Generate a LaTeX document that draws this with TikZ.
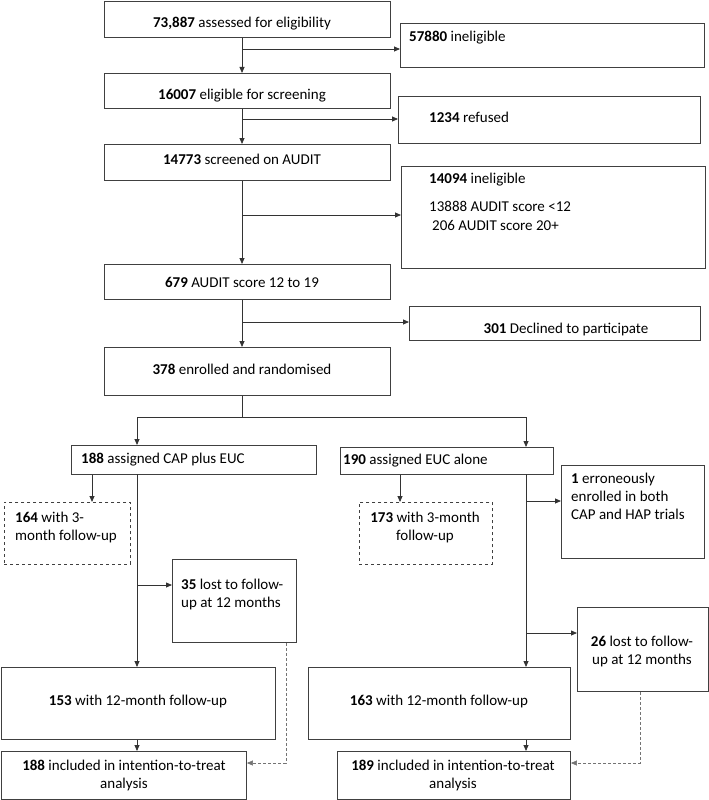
\documentclass[tikz,border=0pt]{standalone}
\usepackage{fontspec}
\setmainfont{Carlito}
\usetikzlibrary{arrows.meta}

\tikzset{
	box/.style={draw=black!75, line width=0.9pt, inner sep=0pt, anchor=north west},
	dbox/.style={box, dashed},
	txt/.style={inner sep=0pt, font=\fontsize{15}{18}\selectfont},
	arr/.style={draw=black!80, line width=0.8pt, -{Triangle[length=6pt,width=5pt]}},
	ln/.style={draw=black!80, line width=0.8pt},
	darr/.style={draw=black!55, line width=0.6pt, densely dashed, -{Triangle[length=6pt,width=5pt]}}
}

\begin{document}
\begin{tikzpicture}[x=1pt, y=-1pt]
	\useasboundingbox (0,0) rectangle (709,800);
	% main column
	\node[box, minimum width=286pt, minimum height=36pt] (b1) at (104,1) {};
	\node[txt] (t1) at (242,24) {\textbf{73,887} assessed for eligibility};
	\node[box, minimum width=304pt, minimum height=44pt] (b2) at (400,23) {};
	\node[txt, anchor=west] (t2) at (409,38) {\textbf{57880} ineligible};
	\node[box, minimum width=286pt, minimum height=35pt] (b3) at (104,73) {};
	\node[txt] (t3) at (242,96) {\textbf{16007} eligible for screening};
	\node[box, minimum width=302pt, minimum height=47pt] (b4) at (398,96) {};
	\node[txt, anchor=west] (t4) at (429,117) {\textbf{1234} refused};
	\node[box, minimum width=286pt, minimum height=36pt] (b5) at (104,144) {};
	\node[txt] (t5) at (242,159) {\textbf{14773} screened on AUDIT};
	\node[box, minimum width=304pt, minimum height=102pt] (b6) at (401,166) {};
	\node[txt, anchor=west] (t6a) at (429,180) {\textbf{14094} ineligible};
	\node[txt, anchor=west] (t6b) at (429,206) {13888 AUDIT score <12};
	\node[txt, anchor=west] (t6c) at (432,225) {206 AUDIT score 20+};
	\node[box, minimum width=286pt, minimum height=35pt] (b7) at (104,264) {};
	\node[txt] (t7) at (242,282) {\textbf{679} AUDIT score 12 to 19};
	\node[box, minimum width=291pt, minimum height=34pt] (b8) at (409,306) {};
	\node[txt] (t8) at (566,329) {\textbf{301} Declined to participate};
	\node[box, minimum width=286pt, minimum height=48pt] (b9) at (104,347) {};
	\node[txt] (t9) at (242,369) {\textbf{378} enrolled and randomised};

	% two arms
	\node[box, minimum width=245pt, minimum height=29pt] (b10) at (71,445) {};
	\node[txt, anchor=west] (t10) at (81,460) {\textbf{188} assigned CAP plus EUC};
	\node[box, minimum width=213pt, minimum height=27pt] (b11) at (340,447) {};
	\node[txt, anchor=west] (t11) at (343,461) {\textbf{190} assigned EUC alone};
	\node[dbox, minimum width=126pt, minimum height=62pt] (b12) at (4,502) {};
	\node[txt, anchor=west, align=left] (t12) at (15,527) {\textbf{164} with 3-\\month follow-up};
	\node[dbox, minimum width=133pt, minimum height=62pt] (b13) at (359,502) {};
	\node[txt, align=center] (t13) at (425,527) {\textbf{173} with 3-month\\follow-up};
	\node[box, minimum width=143pt, minimum height=93pt] (b14) at (561,465) {};
	\node[txt, anchor=north west, align=left] (t14) at (571,473) {\textbf{1} erroneously\\enrolled in both\\CAP and HAP trials};
	\node[box, minimum width=124pt, minimum height=83pt] (b15) at (172,559) {};
	\node[txt, anchor=north west, align=left] (t15) at (181,579) {\textbf{35} lost to follow-\\up at 12 months};
	\node[box, minimum width=131pt, minimum height=84pt] (b16) at (577,607) {};
	\node[txt, align=center] (t16) at (642,651) {\textbf{26} lost to follow-\\up at 12 months};
	\node[box, minimum width=274pt, minimum height=72pt] (b17) at (1,667) {};
	\node[txt] (t17) at (138,701) {\textbf{153} with 12-month follow-up};
	\node[box, minimum width=262pt, minimum height=72pt] (b18) at (308,667) {};
	\node[txt] (t18) at (439,701) {\textbf{163} with 12-month follow-up};
	\node[box, minimum width=245pt, minimum height=48pt] (b19) at (1,751) {};
	\node[txt, align=center] (t19) at (124,775) {\textbf{188} included in intention-to-treat\\analysis};
	\node[box, minimum width=233pt, minimum height=48pt] (b20) at (337,751) {};
	\node[txt, align=center] (t20) at (453,775) {\textbf{189} included in intention-to-treat\\analysis};

	% junctions
	\coordinate (j1) at (242,49);
	\coordinate (j2) at (242,119);
	\coordinate (j3) at (242,215);
	\coordinate (j4) at (242,322);
	\coordinate (j5) at (242,417);
	\coordinate (jl) at (137,417);
	\coordinate (jr) at (526,417);
	\coordinate (l0) at (137,474);
	\coordinate (l1) at (137,585);
	\coordinate (r0) at (526,474);
	\coordinate (r1) at (526,501);
	\coordinate (r2) at (526,633);
	\coordinate (d1) at (286,763);
	\coordinate (d2) at (640,763);

	\draw[arr] (b1.south -| j1) -- (b3.north -| j1);
	\draw[arr] (j1) -- (b2.west |- j1);
	\draw[arr] (b3.south -| j2) -- (b5.north -| j2);
	\draw[arr] (j2) -- (b4.west |- j2);
	\draw[arr] (b5.south -| j3) -- (b7.north -| j3);
	\draw[arr] (j3) -- (b6.west |- j3);
	\draw[arr] (b7.south -| j4) -- (b9.north -| j4);
	\draw[arr] (j4) -- (b8.west |- j4);
	\draw[ln] (b9.south -| j5) -- (j5);
	\draw[arr] (jr) -- (jl) -- (jl |- b10.north);
	\draw[arr] (jl -| jr) -- (jr |- b11.north);

	\draw[arr] (b10.south -| 92,0) -- (b12.north -| 92,0);
	\draw[arr] (l0) -- (b17.north -| l0);
	\draw[arr] (l1) -- (b15.west |- l1);
	\draw[arr] (b17.south -| l0) -- (b19.north -| l0);
	\draw[darr] (b15.south -| d1) -- (d1) -- (b19.east |- d1);

	\draw[arr] (b11.south -| 400,0) -- (b13.north -| 400,0);
	\draw[arr] (r0) -- (b18.north -| r0);
	\draw[arr] (r1) -- (b14.west |- r1);
	\draw[arr] (r2) -- (b16.west |- r2);
	\draw[arr] (b18.south -| r0) -- (b20.north -| r0);
	\draw[darr] (b16.south -| d2) -- (d2) -- (b20.east |- d2);
\end{tikzpicture}
\end{document}
